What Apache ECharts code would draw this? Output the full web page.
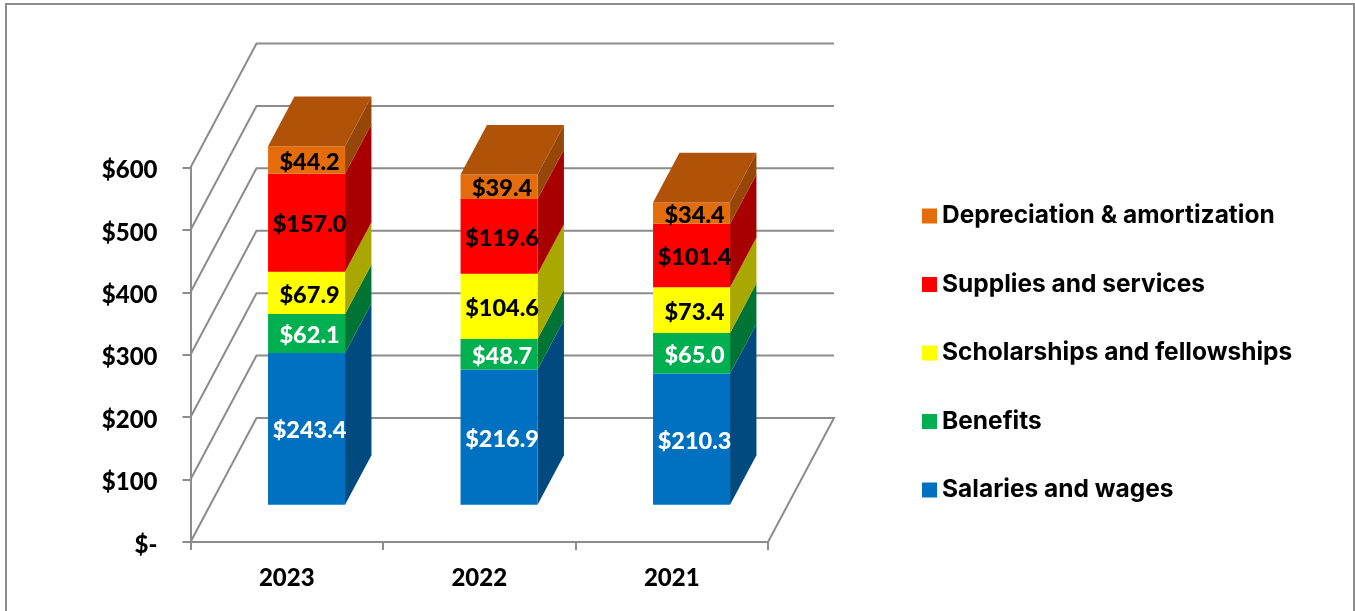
<!DOCTYPE html>
<html>
<head>
<meta charset="utf-8">
<title>Expenses by category</title>
<style>
html, body { margin: 0; padding: 0; background: #fff; }
#main { width: 1355px; height: 611px; }
</style>
<script src="https://cdn.jsdelivr.net/npm/echarts@6/dist/echarts.min.js"></script>
</head>
<body>
<div id="main"></div>
<script>
// values in $ millions
var years = ['2023', '2022', '2021'];
var salaries = [243.4, 216.9, 210.3];
var benefits = [62.1, 48.7, 65.0];
var scholarships = [67.9, 104.6, 73.4];
var supplies = [157.0, 119.6, 101.4];
var depreciation = [44.2, 39.4, 34.4];
var yTicks = [0, 100, 200, 300, 400, 500, 600];
var legendOrder = ['Depreciation & amortization', 'Supplies and services', 'Scholarships and fellowships', 'Benefits', 'Salaries and wages'];

var lineColor = '#8c8c8c';
var lineW = 2;
var fontName = 'Lato';
var heavy = 900;
// how far the floor goes back on screen
var depthX = 66, depthY = -124;
var barFront = 0.3, barBack = 0.7, barWidth = 0.4;

function shade(hex, f){
	var n = parseInt(hex.slice(1), 16);
	var r = Math.round((n >> 16) * f), g = Math.round(((n >> 8) & 255) * f), b = Math.round((n & 255) * f);
	return 'rgb(' + r + ',' + g + ',' + b + ')';
}

function fmt(v){
	return '$' + v.toFixed(1);
}

function wallItem(params, api){
	var v = api.value(0);
	var y = api.coord([0, v])[1];
	var x0 = params.coordSys.x, x1 = x0 + params.coordSys.width;
	var style = { stroke: lineColor, lineWidth: lineW, fill: null };
	var pts = [[x0, y], [x0 + depthX, y + depthY], [x1 + depthX, y + depthY]];
	if (v === 0) pts.push([x1, y]);
	return { type: 'polyline', shape: { points: pts }, style: style };
}

// one stacked block: front face, side face, and the lid if it is the last block
function blockRenderer(color, labelColor, isTop){
	return function(params, api){
		var cat = api.value(0), from = api.value(1), to = api.value(2);
		var bandW = params.coordSys.width / years.length;
		var cx = api.coord([cat, 0])[0];
		var yFrom = api.coord([cat, from])[1], yTo = api.coord([cat, to])[1];
		var l = cx - bandW * barWidth / 2 + depthX * barFront;
		var r = l + bandW * barWidth;
		var dy0 = depthY * barFront, d = barBack - barFront;
		var dx = depthX * d, dy = depthY * d;
		var kids = [{
			type: 'polygon',
			shape: { points: [[r, yFrom + dy0], [r + dx, yFrom + dy0 + dy], [r + dx, yTo + dy0 + dy], [r, yTo + dy0]] },
			style: { fill: shade(color, 0.66) }
		}, {
			type: 'rect',
			shape: { x: l, y: yTo + dy0, width: r - l, height: yFrom - yTo },
			style: { fill: color }
		}];
		if (isTop) {
			kids.push({
				type: 'polygon',
				shape: { points: [[l, yTo + dy0], [r, yTo + dy0], [r + dx, yTo + dy0 + dy], [l + dx, yTo + dy0 + dy]] },
				style: { fill: shade(color, 0.77) }
			});
		}
		kids.push({
			type: 'text',
			style: {
				text: fmt(to - from),
				x: (l + r) / 2 + 3,
				y: yTo + dy0 + (yFrom - yTo) / 2 + 2,
				textAlign: 'center',
				textVerticalAlign: 'middle',
				fill: labelColor,
				font: heavy + ' 23.5px ' + fontName
			}
		});
		return { type: 'group', children: kids };
	};
}

var blocks = [
	{ name: 'Salaries and wages', values: salaries, color: '#0070C0', label: '#ffffff' },
	{ name: 'Benefits', values: benefits, color: '#00B050', label: '#ffffff' },
	{ name: 'Scholarships and fellowships', values: scholarships, color: '#FFFF00', label: '#000000' },
	{ name: 'Supplies and services', values: supplies, color: '#FF0000', label: '#000000' },
	{ name: 'Depreciation & amortization', values: depreciation, color: '#E46C0A', label: '#000000' }
];

var seriesList = [{
	name: 'walls',
	type: 'custom',
	silent: true,
	renderItem: wallItem,
	data: yTicks.map(function(t){ return [t]; }),
	encode: { y: 0 }
}];
var running = years.map(function(){ return 0; });
blocks.forEach(function(b, idx){
	var rows = [];
	for (var i = 0; i < years.length; i++) {
		rows.push([i, running[i], running[i] + b.values[i]]);
		running[i] += b.values[i];
	}
	seriesList.push({
		name: b.name,
		type: 'custom',
		itemStyle: { color: b.color },
		renderItem: blockRenderer(b.color, b.label, idx === blocks.length - 1),
		data: rows,
		encode: { x: 0, y: [1, 2] }
	});
});

var myChart = echarts.init(document.getElementById('main'));
var option = {
	animation: false,
	backgroundColor: '#ffffff',
	grid: { left: 190.5, right: 587, top: 167.5, bottom: 69 },
	xAxis: {
		type: 'category',
		data: years,
		axisLine: { lineStyle: { color: lineColor, width: lineW } },
		axisTick: { show: true, length: 8, lineStyle: { color: lineColor, width: lineW } },
		axisLabel: { margin: 24, color: '#000', fontFamily: fontName, fontWeight: heavy, fontSize: 24 }
	},
	yAxis: {
		type: 'value',
		min: 0,
		max: 600,
		interval: 100,
		splitLine: { show: false },
		axisLine: { show: true, lineStyle: { color: lineColor, width: lineW } },
		axisTick: { show: true, length: 8, lineStyle: { color: lineColor, width: lineW } },
		axisLabel: {
			margin: 33,
			formatter: function(v){ return '{t|' + (v === 0 ? '$-' : '$' + v) + '}'; },
			rich: { t: { color: '#000', fontFamily: fontName, fontWeight: heavy, fontSize: 24, padding: [6, 0, 0, 0] } }
		}
	},
	legend: {
		data: legendOrder,
		orient: 'vertical',
		left: 922,
		top: 203,
		align: 'left',
		icon: 'rect',
		itemWidth: 15,
		itemHeight: 15,
		itemGap: 42.5,
		padding: 0,
		selectedMode: false,
		textStyle: { color: '#000', fontFamily: 'Inter', fontWeight: 'bold', fontSize: 24.5, lineHeight: 26 }
	},
	graphic: [{
		type: 'polyline',
		silent: true,
		shape: { points: [[6, 611], [6, 4], [1354, 4], [1354, 611]] },
		style: { stroke: lineColor, lineWidth: lineW, fill: null }
	}],
	series: seriesList
};
myChart.setOption(option);
</script>
</body>
</html>
